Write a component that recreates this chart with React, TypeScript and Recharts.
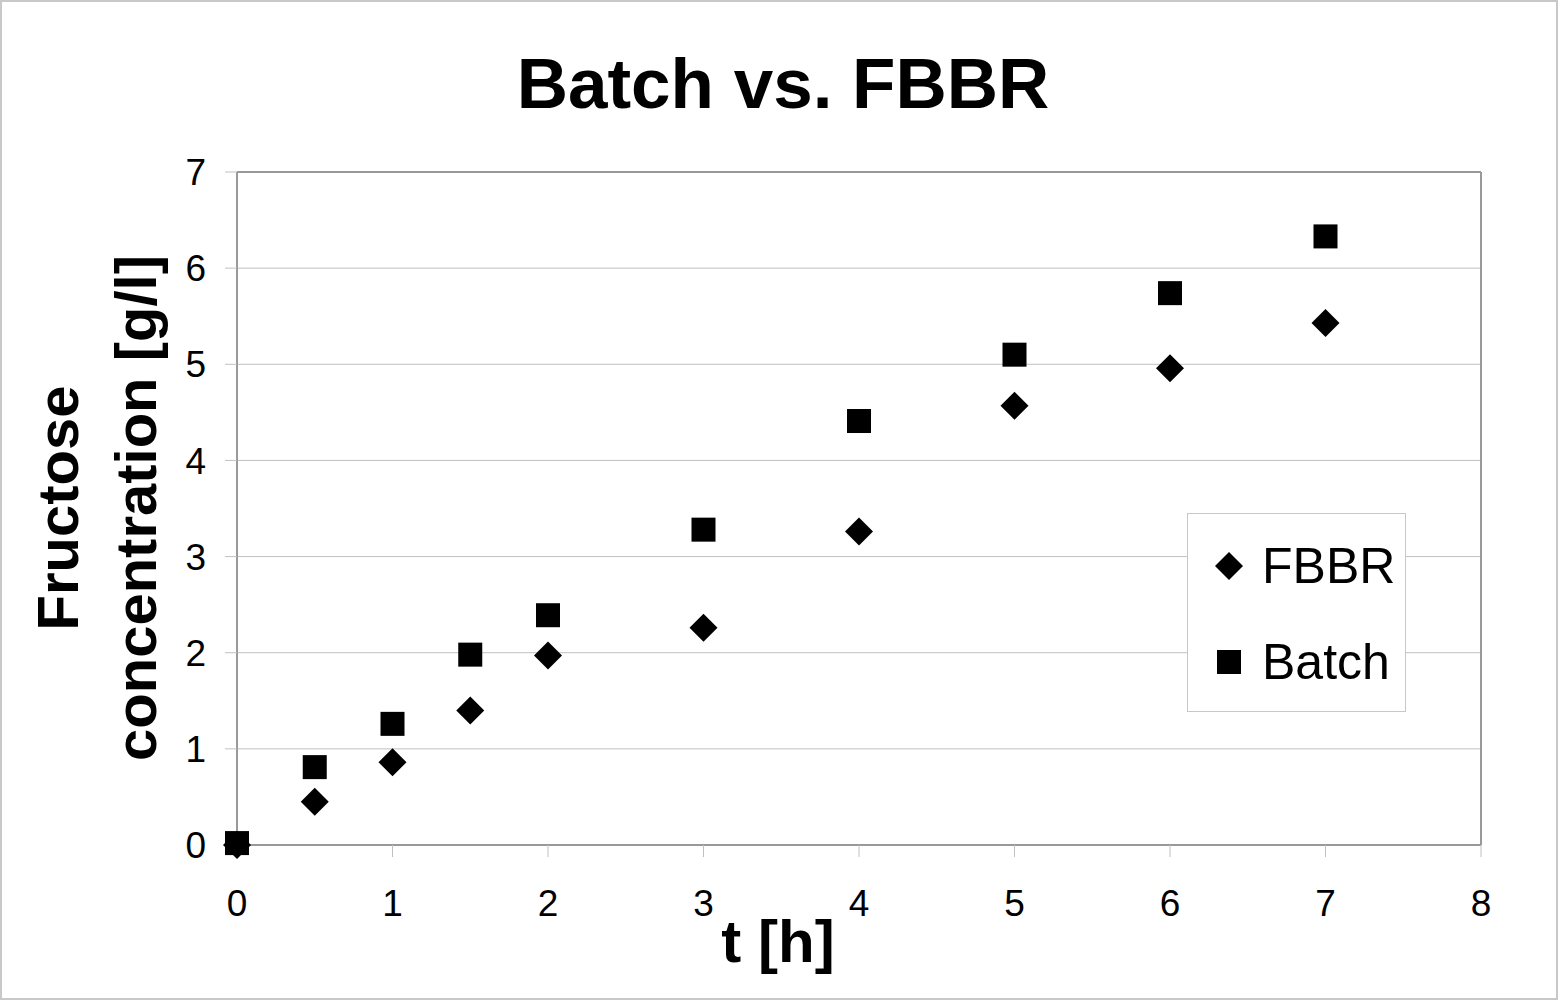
import {
  ScatterChart,
  Scatter,
  XAxis,
  YAxis,
  CartesianGrid,
  Legend,
  ReferenceLine,
  Label,
} from 'recharts';

const timeHours = [0, 0.5, 1, 1.5, 2, 3, 4, 5, 6, 7];
const fbbrValues = [0, 0.45, 0.86, 1.4, 1.97, 2.26, 3.26, 4.57, 4.96, 5.43];
const batchValues = [0.02, 0.81, 1.26, 1.98, 2.39, 3.28, 4.41, 5.1, 5.74, 6.33];

const xTicks = [0, 1, 2, 3, 4, 5, 6, 7, 8];
const yTicks = [0, 1, 2, 3, 4, 5, 6, 7];

const FONT = '"Liberation Sans", Arial, Helvetica, sans-serif';

const fbbrData = timeHours.map((t, i) => ({ t, c: fbbrValues[i] }));
const batchData = timeHours.map((t, i) => ({ t, c: batchValues[i] }));

const Diamond = ({ cx, cy }: any) => (
  <polygon
    points={`${cx},${cy - 14} ${cx + 14},${cy} ${cx},${cy + 14} ${cx - 14},${cy}`}
    fill="#000"
  />
);

const Square = ({ cx, cy }: any) => (
  <rect x={cx - 12} y={cy - 12} width={24} height={24} fill="#000" />
);

const legendItems = [
  { name: 'FBBR', icon: 'diamond' },
  { name: 'Batch', icon: 'square' },
];

const renderLegend = () => (
  <div
    style={{
      width: 219,
      height: 199,
      border: '1px solid #c8c8c8',
      background: '#fff',
      boxSizing: 'border-box',
      position: 'relative',
      fontFamily: FONT,
    }}
  >
    {legendItems.map((item, i) => (
      <div
        key={item.name}
        style={{
          position: 'absolute',
          left: 20,
          top: 22 + i * 96,
          height: 60,
          display: 'flex',
          alignItems: 'center',
        }}
      >
        <svg width={42} height={42}>
          {item.icon === 'diamond' ? (
            <polygon points="21,7 35,21 21,35 7,21" fill="#000" />
          ) : (
            <rect x={9} y={9} width={24} height={24} fill="#000" />
          )}
        </svg>
        <span style={{ marginLeft: 12, fontSize: 50, color: '#000' }}>
          {item.name}
        </span>
      </div>
    ))}
  </div>
);

const YLabel = () => (
  <g>
    <text
      x={0}
      y={0}
      transform="translate(78, 508) rotate(-90)"
      textAnchor="middle"
      fontSize={58}
      fontWeight="bold"
      fontFamily={FONT}
      fill="#000"
    >
      Fructose
    </text>
    <text
      x={0}
      y={0}
      transform="translate(156, 508) rotate(-90)"
      textAnchor="middle"
      fontSize={58}
      fontWeight="bold"
      fontFamily={FONT}
      fill="#000"
    >
      concentration [g/l]
    </text>
  </g>
);

const XLabel = () => (
  <text
    x={778}
    y={962}
    textAnchor="middle"
    fontSize={60}
    fontWeight="bold"
    fontFamily={FONT}
    fill="#000"
  >
    t [h]
  </text>
);

export default function App() {
  return (
    <div
      style={{
        position: 'absolute',
        left: 0,
        top: 0,
        width: 1558,
        height: 1000,
        boxSizing: 'border-box',
        border: '2px solid #c8c8c8',
        background: '#fff',
        fontFamily: FONT,
      }}
    >
      <div
        style={{
          position: 'absolute',
          left: 0,
          top: 41,
          width: 1558,
          textAlign: 'center',
          fontSize: 71,
          fontWeight: 'bold',
          color: '#000',
          marginLeft: 2,
        }}
      >
        Batch vs. FBBR
      </div>

      <div style={{ position: 'absolute', left: -2, top: -2 }}>
        <ScatterChart
          width={1558}
          height={1000}
          margin={{ top: 172, right: 77, bottom: 95, left: 177 }}
        >
          <CartesianGrid
            vertical={false}
            stroke="#c0c0c0"
            strokeWidth={1}
          />
          <XAxis
            type="number"
            dataKey="t"
            domain={[0, 8]}
            ticks={xTicks}
            height={60}
            stroke="#999"
            strokeWidth={2}
            tickSize={12}
            tickMargin={33}
            tickLine={{ stroke: '#c0c0c0', strokeWidth: 1 }}
            tick={{ fontSize: 37, fill: '#000', fontFamily: FONT }}
            interval={0}
          >
            <Label content={<XLabel />} />
          </XAxis>
          <YAxis
            type="number"
            dataKey="c"
            domain={[0, 7]}
            ticks={yTicks}
            width={60}
            stroke="#999"
            strokeWidth={2}
            tickSize={12}
            tickMargin={19}
            tickLine={{ stroke: '#c0c0c0', strokeWidth: 1 }}
            tick={{ fontSize: 37, fill: '#000', fontFamily: FONT }}
            interval={0}
          >
            <Label content={<YLabel />} />
          </YAxis>
          <ReferenceLine x={8} stroke="#999" strokeWidth={2} />
          <ReferenceLine y={7} stroke="#999" strokeWidth={2} />
          <Legend
            layout="horizontal"
            align="center"
            verticalAlign="middle"
            content={renderLegend}
            wrapperStyle={{ left: 1187, top: 513, width: 219 }}
          />
          <Scatter
            name="FBBR"
            data={fbbrData}
            shape={Diamond}
            isAnimationActive={false}
          />
          <Scatter
            name="Batch"
            data={batchData}
            shape={Square}
            isAnimationActive={false}
          />
        </ScatterChart>
      </div>
    </div>
  );
}
